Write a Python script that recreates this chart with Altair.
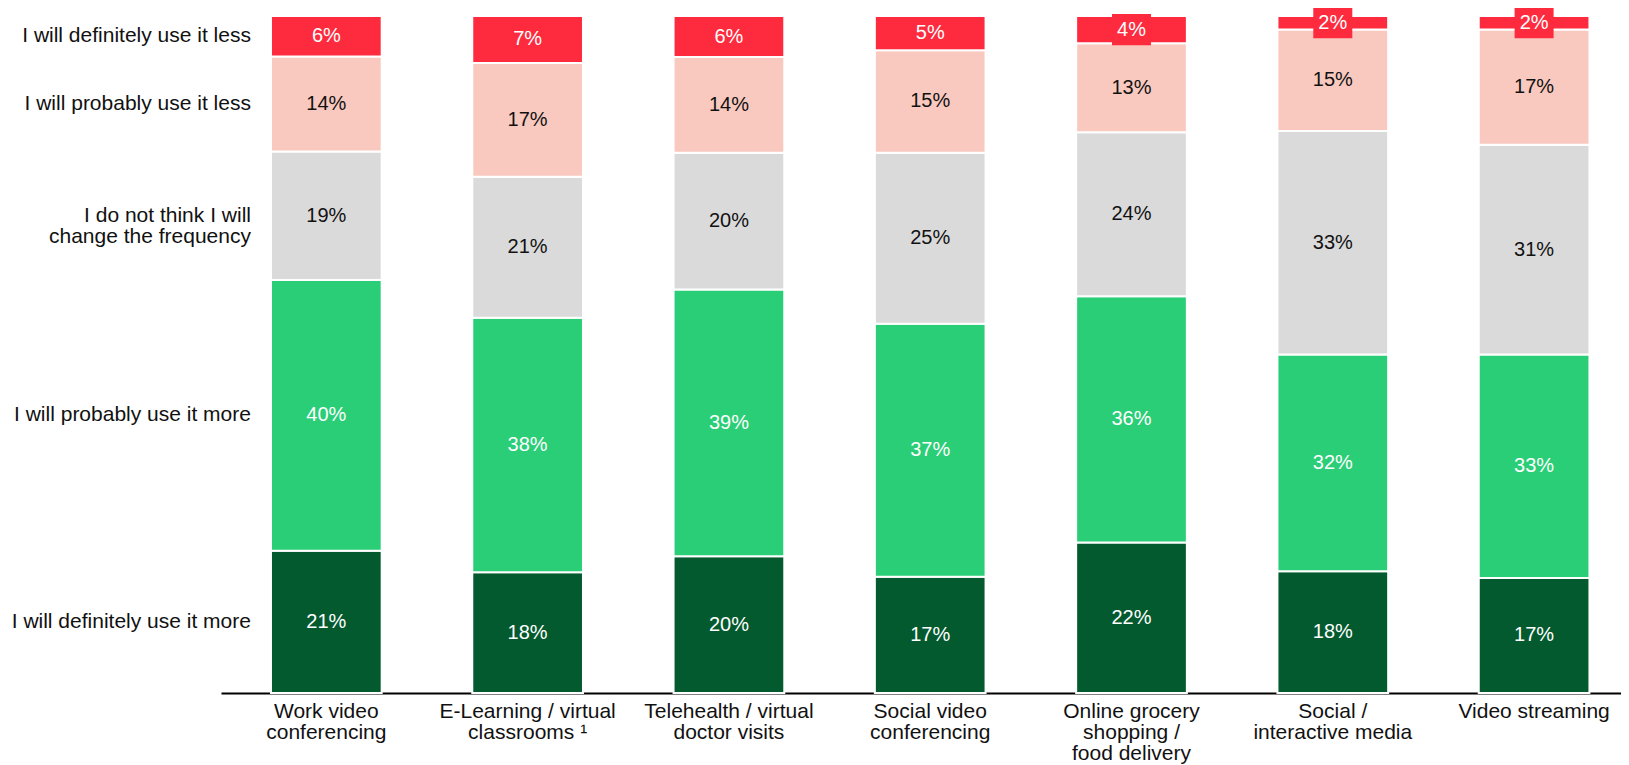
import altair as alt
import pandas as pd

# ---- data ----
categories = [
    "Work video|conferencing",
    "E-Learning / virtual|classrooms ¹",
    "Telehealth / virtual|doctor visits",
    "Social video|conferencing",
    "Online grocery|shopping /|food delivery",
    "Social /|interactive media",
    "Video streaming",
]
segments = [
    "I will definitely use it more",
    "I will probably use it more",
    "I do not think I will \nchange the frequency",
    "I will probably use it less",
    "I will definitely use it less",
]
definitely_more = [21, 18, 20, 17, 22, 18, 17]
probably_more = [40, 38, 39, 37, 36, 32, 33]
no_change = [19, 21, 20, 25, 24, 33, 31]
probably_less = [14, 17, 14, 15, 13, 15, 17]
definitely_less = [6, 7, 6, 5, 4, 2, 2]

seg_colors = ["#035A2E", "#29CE76", "#DADADA", "#F9C9BF", "#FE2A3E"]
text_colors = ["#FFFFFF", "#FFFFFF", "#111111", "#111111", "#FFFFFF"]

series = [definitely_more, probably_more, no_change, probably_less, definitely_less]
rows = []
for si, (seg, vals) in enumerate(zip(segments, series)):
    for ci, (cat, v) in enumerate(zip(categories, vals)):
        rows.append({
            "cat": cat, "segment": seg, "order": si, "value": v,
            "label": f"{v}%", "tcolor": text_colors[si],
        })
df = pd.DataFrame(rows)

FONT = "Liberation Sans"

base = alt.Chart(df).transform_stack(
    stack="value", groupby=["cat"], as_=["y0", "y1"], offset="normalize",
    sort=[alt.SortField("order", order="ascending")],
).transform_calculate(mid="(datum.y0 + datum.y1) / 2")

xscale = alt.Scale(paddingInner=0.45, paddingOuter=0.2025, align=0.613)
yscale = alt.Scale(domain=[0, 1], nice=False, zero=True)

bars = base.mark_bar(stroke="white", strokeWidth=2).encode(
    x=alt.X("cat:N", sort=categories, scale=xscale, axis=alt.Axis(
        title=None, labelExpr="split(datum.label, '|')", labelAngle=0,
        labelFontSize=21, labelFont=FONT, labelColor="#111111",
        labelPadding=7, labelLineHeight=21, labelBaseline="top",
        labelLimit=400, labelOverlap=False, ticks=False, grid=False,
        domainColor="#000000", domainWidth=2,
    )),
    y=alt.Y("y0:Q", scale=yscale, axis=None),
    y2="y1:Q",
    color=alt.Color("segment:N", scale=alt.Scale(domain=segments, range=seg_colors), legend=None),
)

boxes = base.transform_filter("datum.order == 4 && datum.value < 5").mark_point(
    shape="M-1,-0.8H1V0.8H-1Z", size=1521, filled=True, opacity=1,
    color="#FE2A3E", strokeWidth=0,
).encode(
    x=alt.X("cat:N", sort=categories),
    y=alt.Y("mid:Q", scale=yscale, axis=None),
)

pct = base.mark_text(fontSize=20, font=FONT, baseline="middle").encode(
    x=alt.X("cat:N", sort=categories),
    y=alt.Y("mid:Q", scale=yscale, axis=None),
    text="label:N",
    color=alt.Color("tcolor:N", scale=None),
)

left_labels = base.transform_filter(alt.datum.cat == categories[0]).mark_text(
    align="right", baseline="middle", dx=-20, fontSize=21, font=FONT,
    lineBreak="\n", lineHeight=21, color="#111111",
).encode(
    x=alt.X("cat:N", sort=categories, bandPosition=0),
    y=alt.Y("mid:Q", scale=yscale, axis=None),
    text="segment:N",
)

chart = alt.layer(bars, boxes, pct, left_labels).properties(
    width=1400, height=677,
    autosize=alt.AutoSizeParams(type="none"),
    padding={"left": 213, "top": 8, "right": 0, "bottom": 72},
    background="white",
).configure_view(stroke=None)

chart.save("out.html", embed_options={"renderer": "svg", "actions": False})
